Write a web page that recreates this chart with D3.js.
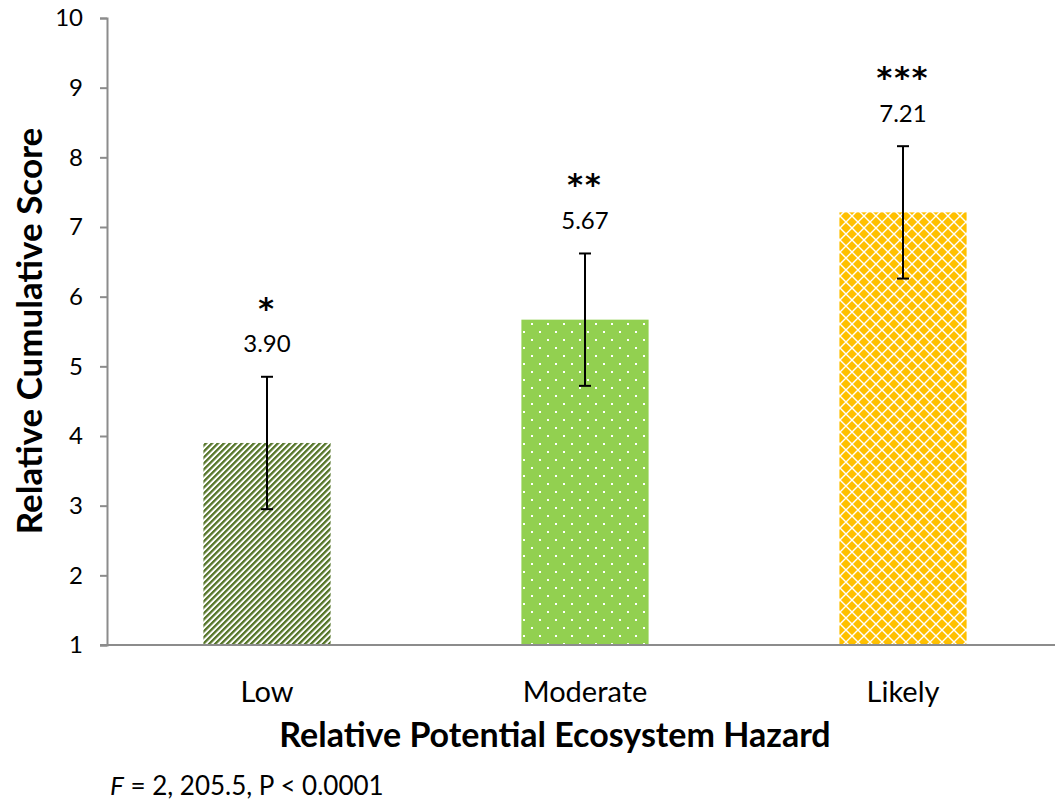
<!DOCTYPE html>
<html>
<head>
<meta charset="utf-8">
<script src="https://cdn.jsdelivr.net/npm/d3@7"></script>
<style>
  html, body { margin: 0; padding: 0; background: #fff; }
  svg { display: block; font-family: Lato, "Open Sans", sans-serif; }
</style>
</head>
<body>
<svg id="chart" width="1055" height="801"></svg>
<script>
// Hazard categories and their mean relative cumulative scores
const categories = ["Low", "Moderate", "Likely"];
const means = [3.90, 5.67, 7.21];
const errors = [0.95, 0.95, 0.95];
const stars = ["*", "**", "***"];
const yTicks = [1, 2, 3, 4, 5, 6, 7, 8, 9, 10];

const svg = d3.select("#chart");
const W = 1055, H = 801;
const font = 'Lato, "Open Sans", sans-serif';

const x = d3.scaleBand().domain(categories).range([108, 1062]).paddingInner(0.6).paddingOuter(0.3);
const y = d3.scaleLinear().domain([1, 10]).range([645, 18]);

// Fill patterns for each bar
const defs = svg.append("defs");

const pStripe = defs.append("pattern")
  .attr("id", "pat-low").attr("patternUnits", "userSpaceOnUse")
  .attr("width", 4.24).attr("height", 4.24)
  .attr("patternTransform", "rotate(45)");
pStripe.append("rect").attr("width", 4.24).attr("height", 4.24).attr("fill", "#fff");
pStripe.append("rect").attr("width", 2.3).attr("height", 4.24).attr("fill", "#557528");

const pDots = defs.append("pattern")
  .attr("id", "pat-mod").attr("patternUnits", "userSpaceOnUse")
  .attr("width", 16).attr("height", 16);
pDots.append("rect").attr("width", 16).attr("height", 16).attr("fill", "#92d050");
pDots.append("rect").attr("x", 3).attr("y", 3).attr("width", 2).attr("height", 2).attr("fill", "#fff");
pDots.append("rect").attr("x", 11).attr("y", 11).attr("width", 2).attr("height", 2).attr("fill", "#fff");

const pDiam = defs.append("pattern")
  .attr("id", "pat-lik").attr("patternUnits", "userSpaceOnUse")
  .attr("width", 12).attr("height", 12);
pDiam.append("rect").attr("width", 12).attr("height", 12).attr("fill", "#ffc000");
pDiam.append("path").attr("d", "M0,0L12,12M12,0L0,12M-1,11L1,13M11,-1L13,1")
  .attr("stroke", "#fff").attr("stroke-width", 1.4).attr("fill", "none");

const fills = ["url(#pat-low)", "url(#pat-mod)", "url(#pat-lik)"];

// Y axis
const yAxis = svg.append("g").attr("transform", "translate(107,0)")
  .call(d3.axisLeft(y).tickValues(yTicks).tickSize(7).tickPadding(17).tickFormat(d3.format("d")));
yAxis.select(".domain").attr("stroke", "#8c8c8c").attr("stroke-width", 2);
yAxis.selectAll(".tick line").attr("stroke", "#8c8c8c").attr("stroke-width", 2);
yAxis.selectAll(".tick text").attr("font-family", font).attr("font-size", 24).attr("fill", "#000");

// Bars
const data = categories.map((c, i) => ({ c, m: means[i], e: errors[i], s: stars[i], f: fills[i] }));
svg.append("g").selectAll("rect").data(data).join("rect")
  .attr("x", d => x(d.c)).attr("width", x.bandwidth())
  .attr("y", d => y(d.m)).attr("height", d => y(1) - y(d.m))
  .attr("fill", d => d.f);

// X axis baseline
svg.append("line").attr("x1", 100).attr("x2", W).attr("y1", y(1)).attr("y2", y(1))
  .attr("stroke", "#8c8c8c").attr("stroke-width", 2);

// Error bars
const cx = d => x(d.c) + x.bandwidth() / 2;
const eb = svg.append("g").selectAll("g").data(data).join("g")
  .attr("stroke", "#000").attr("stroke-width", 2);
eb.append("line")
  .attr("x1", cx).attr("x2", cx)
  .attr("y1", d => y(d.m - d.e)).attr("y2", d => y(d.m + d.e));
eb.append("line")
  .attr("x1", d => cx(d) - 6).attr("x2", d => cx(d) + 6)
  .attr("y1", d => y(d.m + d.e)).attr("y2", d => y(d.m + d.e));
eb.append("line")
  .attr("x1", d => cx(d) - 6).attr("x2", d => cx(d) + 6)
  .attr("y1", d => y(d.m - d.e)).attr("y2", d => y(d.m - d.e));

// Value labels and significance stars
svg.append("g").selectAll("text").data(data).join("text")
  .attr("x", cx)
  .attr("y", d => y(d.m + d.e) - 34)
  .attr("text-anchor", "middle").attr("dominant-baseline", "central")
  .attr("font-family", font).attr("font-size", 24).attr("fill", "#000")
  .text(d => d.m.toFixed(2));

svg.append("g").selectAll("text").data(data).join("text")
  .attr("x", cx)
  .attr("y", d => y(d.m + 2.0) + 15)
  .attr("text-anchor", "middle")
  .attr("font-family", '"DejaVu Sans", sans-serif').attr("font-size", 30).attr("font-weight", "bold").attr("fill", "#000")
  .attr("letter-spacing", 2)
  .text(d => d.s);

// Category labels
svg.append("g").selectAll("text").data(categories).join("text")
  .attr("x", d => x(d) + x.bandwidth() / 2).attr("y", 690)
  .attr("text-anchor", "middle").attr("dominant-baseline", "central")
  .attr("font-family", font).attr("font-size", 29).attr("fill", "#000")
  .text(d => d);

// Axis titles
svg.append("text").attr("x", 555).attr("y", 733)
  .attr("text-anchor", "middle").attr("dominant-baseline", "central")
  .attr("font-family", font).attr("font-size", 34).attr("font-weight", "bold").attr("fill", "#000")
  .text("Relative Potential Ecosystem Hazard");

svg.append("text").attr("transform", "translate(28,331) rotate(-90)")
  .attr("text-anchor", "middle").attr("dominant-baseline", "central")
  .attr("font-family", font).attr("font-size", 35).attr("font-weight", "bold").attr("fill", "#000")
  .text("Relative Cumulative Score");

// Test statistic note
const note = svg.append("text").attr("x", 110).attr("y", 785)
  .attr("dominant-baseline", "central")
  .attr("font-family", font).attr("font-size", 26).attr("fill", "#000");
note.append("tspan").attr("font-style", "italic").text("F");
note.append("tspan").text(" = 2, 205.5, P < 0.0001");
</script>
</body>
</html>
